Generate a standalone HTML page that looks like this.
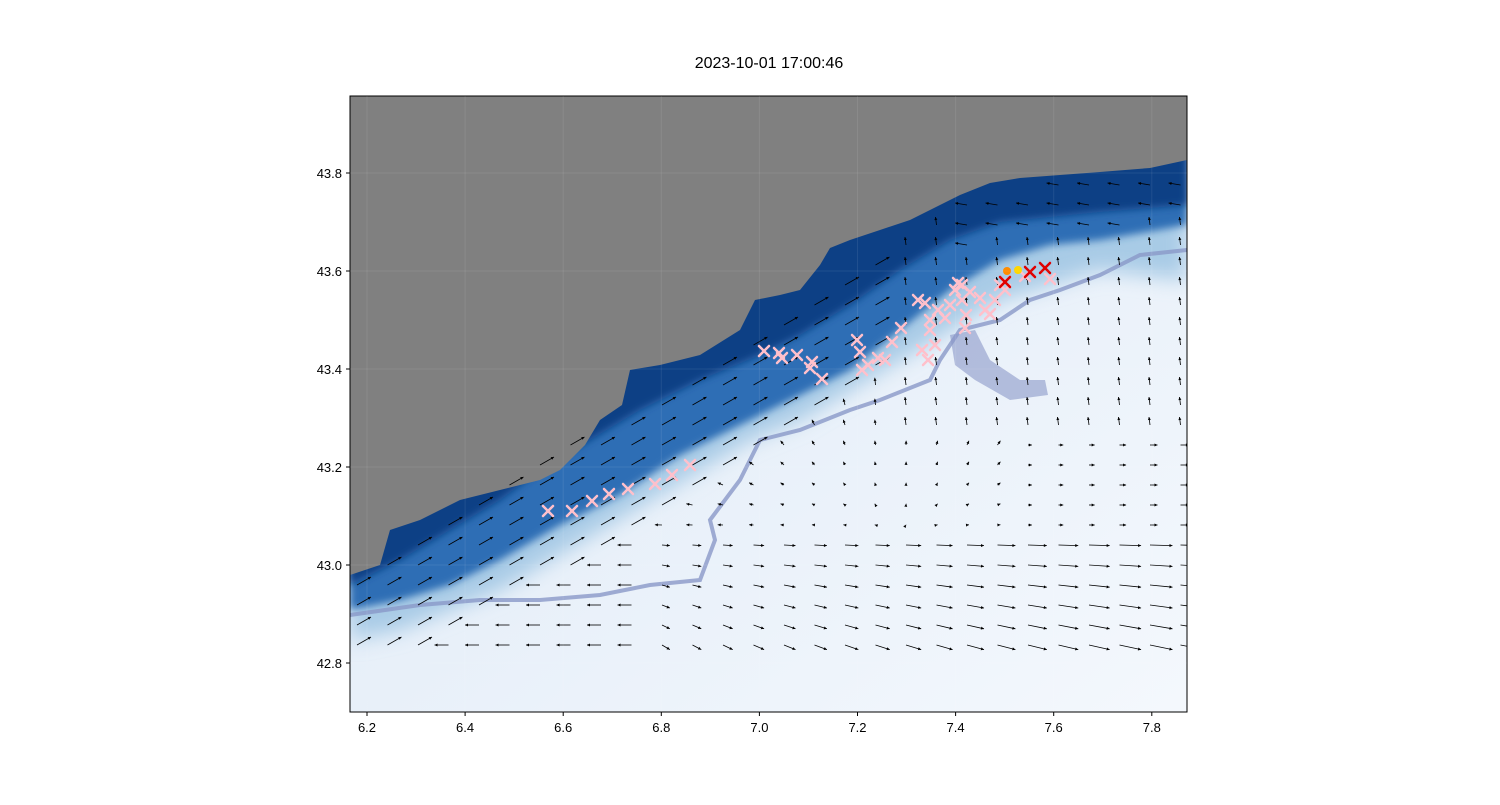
<!DOCTYPE html>
<html><head><meta charset="utf-8"><style>
body{margin:0;background:#fff;}
svg text{font-family:"Liberation Sans",sans-serif;}
</style></head><body>
<svg id="s" width="1500" height="800" xmlns="http://www.w3.org/2000/svg">
<defs>
<clipPath id="c"><rect x="350" y="96" width="837" height="616"/></clipPath>
<filter id="b"><feGaussianBlur stdDeviation="10"/></filter>
<filter id="b2"><feGaussianBlur stdDeviation="4"/></filter>
<linearGradient id="sea" x1="0" y1="0" x2="1" y2="1"><stop offset="0" stop-color="#dce8f5"/><stop offset="1" stop-color="#f4f8fd"/></linearGradient>
</defs>
<text x="769" y="68" font-size="16" text-anchor="middle">2023-10-01 17:00:46</text>
<g clip-path="url(#c)">
<rect x="350" y="96" width="837" height="616" fill="url(#sea)"/>
<path filter="url(#b)" fill="#a8cbe6" d="M350,96 L1187,96 L1187,280 L1100,270 L1000,300 L950,330 L900,360 L850,390 L800,420 L750,440 L700,470 L650,500 L600,530 L550,560 L500,590 L450,610 L400,630 L350,640Z"/>
<path filter="url(#b2)" fill="#2f6eb5" d="M350,96 L1187,96 L1187,225 L1100,240 L1050,245 L1000,260 L950,290 L900,330 L850,370 L800,395 L760,415 L720,435 L680,455 L620,495 L560,525 L500,560 L450,585 L400,600 L350,610Z"/>
<path fill="#0c3f85" filter="url(#b2)" d="M350,96 L1187,96 L1187,205 L1100,212 L1000,222 L950,240 L900,270 L850,305 L800,335 L760,355 L700,380 L640,410 L590,440 L540,470 L500,500 L450,530 L400,560 L350,585Z"/>
<path fill="#808080" d="M350,96 L1187,96 L1187,160 L1150,168 L1100,172 L1060,175 L1020,178 L990,183 L960,195 L930,210 L910,220 L880,230 L850,240 L830,248 L820,265 L800,290 L780,295 L755,300 L740,330 L700,355 L660,365 L630,370 L622,405 L600,420 L585,445 L560,470 L540,480 L500,490 L460,500 L420,520 L390,530 L380,565 L350,575Z"/>
<path fill="none" stroke="#8a98c8" stroke-width="4" opacity="0.8" d="M350,615 L420,605 L480,600 L540,600 L600,595 L650,585 L700,580 L715,540 L710,520 L740,480 L760,440 L800,430 L850,410 L880,400 L930,380 L940,360 L960,330 L1000,320 L1030,300 L1060,290 L1100,275 L1140,255 L1187,250"/>
<path fill="#8a98c8" opacity="0.6" d="M950,335 L975,330 L990,360 L1020,380 L1045,380 L1048,395 L1010,400 L975,380 L955,365Z"/>
<g id="ar" stroke="#000" fill="#000" stroke-width="1"></g>
<g id="mk" stroke-width="2.5" stroke-linecap="round"></g>
</g>
<rect x="350" y="96" width="837" height="616" fill="none" stroke="#000" stroke-width="1"/>
<g font-size="13" fill="#000" id="tk"></g>
</svg>
<script>
var ns="http://www.w3.org/2000/svg",s=document.getElementById('s');
function el(p,t,a,tx){var e=document.createElementNS(ns,t);for(var k in a)e.setAttribute(k,a[k]);if(tx)e.textContent=tx;p.appendChild(e);return e;}
var tk=document.getElementById('tk');
var xs=[6.2,6.4,6.6,6.8,7.0,7.2,7.4,7.6,7.8];
xs.forEach(function(v,i){var x=367+i*98.1;el(tk,'line',{x1:x,x2:x,y1:712,y2:716,stroke:'#000'});el(tk,'text',{x:x,y:732,'text-anchor':'middle'},v.toFixed(1));el(s,'line',{x1:x,x2:x,y1:96,y2:712,stroke:'#fff',opacity:0.08});});
var ys=[42.8,43.0,43.2,43.4,43.6,43.8];
ys.forEach(function(v,i){var y=663-i*98;el(tk,'line',{x1:346,x2:350,y1:y,y2:y,stroke:'#000'});el(tk,'text',{x:342,y:y+5,'text-anchor':'end'},v.toFixed(1));el(s,'line',{x1:350,x2:1187,y1:y,y2:y,stroke:'#fff',opacity:0.08});});
function coastY(x){var p=[[350,575],[460,500],[600,420],[700,355],[800,290],[900,225],[1000,180],[1187,160]];for(var i=0;i<p.length-1;i++){if(x<=p[i+1][0]){var t=(x-p[i][0])/(p[i+1][0]-p[i][0]);return p[i][1]+t*(p[i+1][1]-p[i][1]);}}return 160;}
var ar=document.getElementById('ar');
for(var x=357;x<1185;x+=30.5){for(var y=185;y<650;y+=20){if(y<coastY(x)+8)continue;
var dx,dy;
if(x>=950&&y<coastY(x)+60){dx=-12;dy=-2;}
else if(x<900&&y<coastY(x)+130){dx=14+0*x;dy=-8;}
else if(x>=900&&y<430){dx=-1;dy=-8;}
else if(y>530){dx=6+(x-600)*0.03;dy=(y-580)*0.04+2;if(x<640){dx=-14;dy=0;}}
else {dx=(x-900)*0.03;dy=-5+(y-430)*0.05;}
if(x>1000&&y>=430&&y<=530){dx=(x-900)*0.03;dy=0;}
var L=Math.sqrt(dx*dx+dy*dy)||1;
var x2=x+dx,y2=y+dy,ux=dx/L,uy=dy/L;
el(ar,'line',{x1:x,y1:y,x2:x2,y2:y2,'stroke-width':0.8});
el(ar,'polygon',{points:x2+','+y2+' '+(x2-3*ux-1.5*uy)+','+(y2-3*uy+1.5*ux)+' '+(x2-3*ux+1.5*uy)+','+(y2-3*uy-1.5*ux),stroke:'none'});}}
var mk=document.getElementById('mk');
var pk=[[548,511],[572,511],[592,501],[609,494],[628,489],[655,484],[672,475],[690,465],[764,351],[779,353],[782,358],[797,355],[812,362],[810,368],[822,379],[857,340],[860,352],[862,370],[868,365],[878,358],[885,360],[892,342],[901,328],[918,300],[925,303],[930,320],[930,330],[935,345],[938,310],[945,318],[950,305],[955,290],[958,283],[962,300],[966,315],[965,328],[970,292],[980,298],[985,310],[990,314],[995,300],[1005,290],[922,350],[928,360],[1050,279],[1000,285],[962,285],[1025,276]];
function X(x,y,c){el(mk,'line',{x1:x-5,y1:y-5,x2:x+5,y2:y+5,stroke:c});el(mk,'line',{x1:x-5,y1:y+5,x2:x+5,y2:y-5,stroke:c});}
pk.forEach(function(p){X(p[0],p[1],'#ffc0cb');});
el(mk,'circle',{cx:1007,cy:271,r:4,fill:'#ff8c00'});
el(mk,'circle',{cx:1018,cy:270,r:4,fill:'#ffd700'});
X(1005,282,'#e00000');X(1030,272,'#e00000');X(1045,268,'#e00000');
</script>
</body></html>
